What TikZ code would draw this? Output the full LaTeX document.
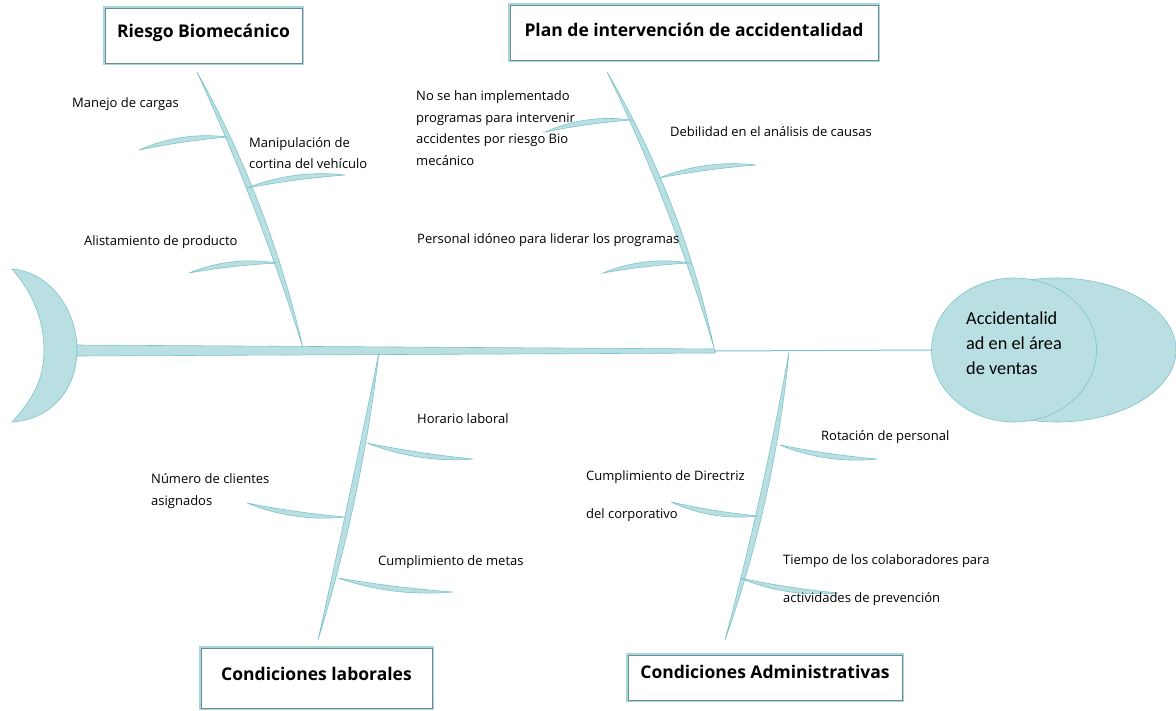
\documentclass[tikz,border=0pt]{standalone}
\usepackage{fontspec}
\setmainfont{Open Sans}
\newfontfamily\cabezafont{Carlito}
\usetikzlibrary{calc, shapes.geometric}

\definecolor{pezrelleno}{HTML}{B9DFE3}
\definecolor{pezborde}{HTML}{7DC3CB}
\definecolor{cajaborde}{HTML}{6F8C94}

\tikzset{
  hueso/.style={fill=pezrelleno, draw=pezborde, line width=0.6pt},
  caja/.style={draw=cajaborde, line width=0.9pt, fill=white,
    preaction={draw=pezrelleno!70!pezborde, line width=4pt},
    font=\fontsize{17.5}{20}\selectfont\bfseries, inner sep=0pt, anchor=north},
  etiqueta/.style={font=\fontsize{13}{21.5}\selectfont, align=left, anchor=west, inner sep=0pt}
}

% hueso: inicio, fin, grosor, curvatura
\newcommand{\hueso}[4]{%
  \path[hueso] (#1)
    .. controls ($(#1)!.33!(#2)!{#4+#3}!90:(#2)$) and ($(#1)!.67!(#2)!{#4+#3}!90:(#2)$) .. (#2)
    .. controls ($(#1)!.67!(#2)!{#4-#3}!90:(#2)$) and ($(#1)!.33!(#2)!{#4-#3}!90:(#2)$) .. (#1) -- cycle;}

\begin{document}
\begin{tikzpicture}[x=1pt, y=-1pt]
  \useasboundingbox (0,0) rectangle (1176,710);

  % Cola del pez
  \path[hueso] (12,269) .. controls (50,272) and (77,310) .. (77,350)
    .. controls (77,390) and (50,420) .. (12,422)
    .. controls (34,398) and (44,378) .. (44,350)
    .. controls (44,322) and (34,294) .. (12,269) -- cycle;

  % Espina central
  \path[hueso] (77,345) -- (715,349) -- (715,353) -- (77,356) -- cycle;
  \coordinate (espina) at (715,351);

  % Cabeza
  \path[hueso] (1057,350) ellipse [x radius=119, y radius=72];
  \node[hueso, ellipse, minimum width=165pt, minimum height=144pt, inner sep=0pt] (efecto) at (1014,350) {};
  \node[font=\cabezafont\fontsize{18.3}{25}\selectfont, align=left, anchor=west, inner sep=0pt] (efectotxt) at (966,343)
    {Accidentalid\\ad en el área\\de ventas};
  \draw[pezborde, line width=1pt] (espina) -- (efecto.west);

  % Espinas principales
  \coordinate (bioA) at (197,72);   \coordinate (bioB) at (303,348);
  \coordinate (planA) at (607,72);  \coordinate (planB) at (714,348);
  \coordinate (labA) at (379,352);  \coordinate (labB) at (318,640);
  \coordinate (admA) at (789,352);  \coordinate (admB) at (725,640);
  \hueso{bioA}{bioB}{4pt}{10pt}
  \hueso{planA}{planB}{4pt}{12pt}
  \hueso{labA}{labB}{4pt}{5pt}
  \hueso{admA}{admB}{4pt}{8pt}

  % Espinas secundarias
  \coordinate (s1a) at (139,150);  \coordinate (s1b) at (228,137);
  \coordinate (s2a) at (247,188);  \coordinate (s2b) at (345,175);
  \coordinate (s3a) at (189,273);  \coordinate (s3b) at (277,263);
  \coordinate (s4a) at (545,132);  \coordinate (s4b) at (631,120);
  \coordinate (s5a) at (659,178);  \coordinate (s5b) at (756,165);
  \coordinate (s6a) at (603,273);  \coordinate (s6b) at (690,263);
  \coordinate (s7a) at (367,443);  \coordinate (s7b) at (473,459);
  \coordinate (s8a) at (247,503);  \coordinate (s8b) at (345,517);
  \coordinate (s9a) at (338,578);  \coordinate (s9b) at (453,592);
  \coordinate (s10a) at (780,445); \coordinate (s10b) at (877,459);
  \coordinate (s11a) at (671,502); \coordinate (s11b) at (758,516);
  \coordinate (s12a) at (740,578); \coordinate (s12b) at (838,593);
  \foreach \s/\c in {s1/5pt, s2/5pt, s3/5pt, s4/5pt, s5/5pt, s6/5pt}
    \hueso{\s a}{\s b}{3.2pt}{\c};
  \foreach \s/\c in {s7/-5pt, s8/-5pt, s9/-5pt, s10/-5pt, s11/-5pt, s12/-5pt}
    \hueso{\s a}{\s b}{3.2pt}{\c};

  % Categorias
  \node[caja, minimum width=197pt, text height=29pt, text depth=26pt] (bio) at (203.5,8) {Riesgo Biomecánico};
  \node[caja, minimum width=368pt, text height=31pt, text depth=24pt] (plan) at (694,5) {Plan de intervención de accidentalidad};
  \node[caja, minimum width=231pt, text height=32pt, text depth=28pt] (lab) at (316.5,648) {Condiciones laborales};
  \node[caja, minimum width=274pt, text height=23pt, text depth=22pt] (adm) at (765,655) {Condiciones Administrativas};

  % Causas
  \node[etiqueta] (c1) at (72,104) {Manejo de cargas};
  \node[etiqueta] (c2) at (249,153) {Manipulación de\\cortina del vehículo};
  \node[etiqueta] (c3) at (84,242) {Alistamiento de producto};
  \node[etiqueta] (c4) at (416,128) {No se han implementado\\programas para intervenir\\accidentes por riesgo Bio\\mecánico};
  \node[etiqueta] (c5) at (670,132) {Debilidad en el análisis de causas};
  \node[etiqueta] (c6) at (417,240) {Personal idóneo para liderar los programas};
  \node[etiqueta] (c7) at (417,419) {Horario laboral};
  \node[etiqueta] (c8) at (151,491) {Número de clientes\\asignados};
  \node[etiqueta] (c9) at (378,562) {Cumplimiento de metas};
  \node[etiqueta] (c10) at (821,437) {Rotación de personal};
  \node[etiqueta] (c11) at (586,496) {Cumplimiento de Directriz\\[17pt]del corporativo};
  \node[etiqueta] (c12) at (783,580) {Tiempo de los colaboradores para\\[16pt]actividades de prevención};
\end{tikzpicture}
\end{document}
